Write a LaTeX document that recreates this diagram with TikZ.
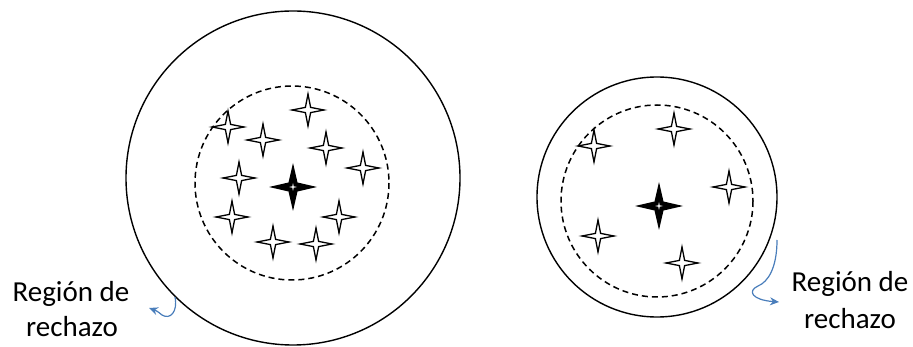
\documentclass[tikz,border=0pt]{standalone}
\usepackage{fontspec}
\setmainfont{Carlito}
\usetikzlibrary{arrows.meta}
\definecolor{arrowblue}{RGB}{74,126,187}
\tikzset{
  solidcirc/.style={draw=black, line width=1.4pt},
  dashcirc/.style={draw=black, line width=1.5pt, dash pattern=on 6pt off 4pt},
  bluearrow/.style={draw=arrowblue, line width=1.2pt, -{Stealth[length=9pt,width=8pt]}},
  lbltext/.style={font=\fontsize{29}{34}\selectfont, inner sep=0pt, anchor=base},
  wstar/.pic={\draw[line width=1.3pt, fill=white, line join=miter]
    (0,-16) -- (2.6,-2.6) -- (16,0) -- (2.6,2.6) -- (0,16) -- (-2.6,2.6) -- (-16,0) -- (-2.6,-2.6) -- cycle;},
  bstar/.pic={\fill[black]
    (0,-24) -- (4.5,-4.5) -- (24,0) -- (4.5,4.5) -- (0,24) -- (-4.5,4.5) -- (-24,0) -- (-4.5,-4.5) -- cycle;
    \fill[white] (0,-4) -- (0.7,-0.7) -- (4,0) -- (0.7,0.7) -- (0,4) -- (-0.7,0.7) -- (-4,0) -- (-0.7,-0.7) -- cycle;}
}
\begin{document}
\begin{tikzpicture}[x=1pt,y=-1pt]
\useasboundingbox (0,0) rectangle (913,347);
% left
\coordinate (L) at (293,178);
\coordinate (Ld) at (292,183);
\draw[solidcirc] (L) circle[radius=167];
\draw[dashcirc] (Ld) circle[radius=97];
\foreach \p in {(308,110),(228,127),(263,140),(326,148),(363,168),(239,178),(232,217),(339,217),(273,242),(316,244)}
  \pic at \p {wstar};
\pic at (293,187) {bstar};
% right
\coordinate (R) at (657,197);
\coordinate (Rd) at (657,201);
\draw[solidcirc] (R) circle[radius=120];
\draw[dashcirc] (Rd) circle[radius=96];
\foreach \p in {(674,129),(594,146),(729,187),(598,236),(682,263)}
  \pic at \p {wstar};
\pic at (659,206) {bstar};
% labels
\node[lbltext] (l1) at (71,302) {Región de};
\node[lbltext] (l2) at (72,337) {rechazo};
\node[lbltext] (r1) at (850,292) {Región de};
\node[lbltext] (r2) at (850,328) {rechazo};
% arrows
\coordinate (la) at (175,297);
\coordinate (lb) at (149,308);
\draw[bluearrow] (la) .. controls (178,312) and (170,320) .. (162,315) .. controls (157,311) .. (lb);
\coordinate (ra) at (777,240);
\coordinate (rb) at (779,302);
\draw[bluearrow] (ra) .. controls (777,268) and (768,282) .. (758,286) .. controls (747,291) and (752,300) .. (rb);
\end{tikzpicture}
\end{document}
